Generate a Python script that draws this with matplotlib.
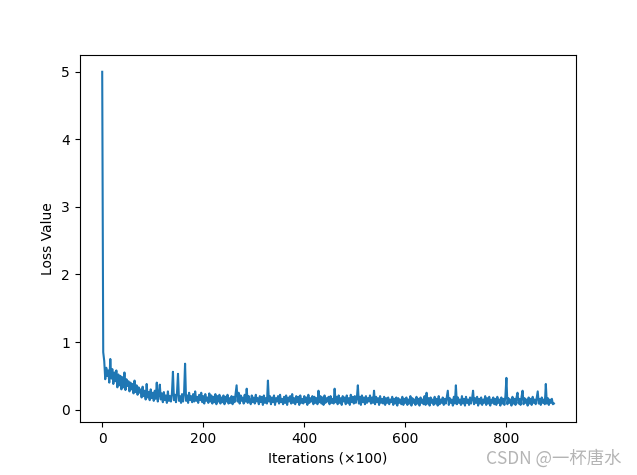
import numpy as np
import matplotlib
matplotlib.use('Agg')
import matplotlib.pyplot as plt

# loss, one value every 2 iterations (x100)
iterations = np.arange(0, 896, 2)
loss_values = [
    5.00, 0.85, 0.72, 0.45, 0.62, 0.50, 0.58, 0.40, 0.75, 0.46,
    0.60, 0.38, 0.55, 0.42, 0.58, 0.33, 0.52, 0.36, 0.50, 0.30,
    0.48, 0.33, 0.55, 0.29, 0.45, 0.35, 0.42, 0.27, 0.40, 0.30,
    0.38, 0.24, 0.43, 0.26, 0.36, 0.22, 0.33, 0.25, 0.30, 0.18,
    0.34, 0.20, 0.28, 0.15, 0.38, 0.18, 0.26, 0.14, 0.30, 0.17,
    0.25, 0.13, 0.28, 0.16, 0.40, 0.12, 0.22, 0.37, 0.15, 0.24,
    0.11, 0.26, 0.14, 0.21, 0.10, 0.27, 0.13, 0.20, 0.12, 0.24,
    0.56, 0.14, 0.22, 0.11, 0.25, 0.53, 0.13, 0.20, 0.10, 0.23,
    0.12, 0.24, 0.68, 0.13, 0.21, 0.10, 0.25, 0.14, 0.20, 0.11,
    0.23, 0.12, 0.27, 0.13, 0.19, 0.10, 0.22, 0.14, 0.25, 0.11,
    0.20, 0.09, 0.23, 0.13, 0.18, 0.10, 0.24, 0.12, 0.21, 0.09,
    0.19, 0.11, 0.23, 0.08, 0.20, 0.12, 0.22, 0.09, 0.18, 0.11,
    0.21, 0.08, 0.19, 0.12, 0.22, 0.09, 0.17, 0.10, 0.20, 0.08,
    0.19, 0.11, 0.23, 0.36, 0.12, 0.25, 0.09, 0.21, 0.13, 0.18,
    0.09, 0.22, 0.12, 0.31, 0.10, 0.20, 0.13, 0.08, 0.21, 0.11,
    0.18, 0.09, 0.22, 0.12, 0.17, 0.08, 0.20, 0.11, 0.19, 0.07,
    0.21, 0.10, 0.17, 0.09, 0.43, 0.12, 0.20, 0.08, 0.18, 0.11,
    0.21, 0.07, 0.17, 0.12, 0.20, 0.09, 0.22, 0.11, 0.16, 0.08,
    0.19, 0.10, 0.21, 0.07, 0.18, 0.12, 0.20, 0.09, 0.23, 0.10,
    0.17, 0.08, 0.20, 0.11, 0.19, 0.07, 0.21, 0.10, 0.16, 0.09,
    0.20, 0.11, 0.18, 0.07, 0.22, 0.10, 0.17, 0.12, 0.20, 0.08,
    0.19, 0.10, 0.17, 0.08, 0.28, 0.11, 0.20, 0.09, 0.18, 0.07,
    0.21, 0.10, 0.17, 0.12, 0.19, 0.08, 0.20, 0.10, 0.16, 0.09,
    0.31, 0.11, 0.19, 0.08, 0.21, 0.10, 0.17, 0.07, 0.20, 0.12,
    0.18, 0.08, 0.21, 0.10, 0.17, 0.07, 0.22, 0.11, 0.19, 0.09,
    0.20, 0.10, 0.17, 0.36, 0.09, 0.19, 0.07, 0.21, 0.11, 0.18,
    0.08, 0.20, 0.10, 0.17, 0.12, 0.21, 0.09, 0.18, 0.10, 0.28,
    0.08, 0.19, 0.11, 0.17, 0.07, 0.20, 0.10, 0.16, 0.09, 0.19,
    0.07, 0.17, 0.10, 0.18, 0.08, 0.15, 0.11, 0.19, 0.07, 0.16,
    0.09, 0.18, 0.06, 0.17, 0.10, 0.15, 0.08, 0.19, 0.07, 0.16,
    0.10, 0.18, 0.07, 0.15, 0.09, 0.20, 0.06, 0.17, 0.10, 0.15,
    0.07, 0.19, 0.09, 0.16, 0.06, 0.18, 0.10, 0.15, 0.08, 0.20,
    0.07, 0.25, 0.09, 0.17, 0.06, 0.18, 0.10, 0.15, 0.07, 0.19,
    0.09, 0.16, 0.06, 0.20, 0.08, 0.15, 0.10, 0.18, 0.07, 0.16,
    0.09, 0.19, 0.28, 0.07, 0.17, 0.10, 0.15, 0.06, 0.19, 0.09,
    0.36, 0.08, 0.18, 0.10, 0.15, 0.07, 0.20, 0.09, 0.16, 0.06,
    0.19, 0.10, 0.15, 0.07, 0.18, 0.09, 0.16, 0.28, 0.08, 0.17,
    0.10, 0.19, 0.06, 0.16, 0.09, 0.18, 0.07, 0.15, 0.10, 0.20,
    0.07, 0.17, 0.09, 0.19, 0.06, 0.15, 0.10, 0.18, 0.08, 0.16,
    0.07, 0.19, 0.10, 0.15, 0.06, 0.18, 0.09, 0.16, 0.07, 0.20,
    0.47, 0.08, 0.17, 0.10, 0.15, 0.06, 0.19, 0.09, 0.16, 0.07,
    0.18, 0.25, 0.09, 0.16, 0.07, 0.19, 0.28, 0.08, 0.17, 0.10,
    0.15, 0.06, 0.18, 0.09, 0.16, 0.07, 0.19, 0.10, 0.15, 0.08,
    0.17, 0.27, 0.09, 0.16, 0.07, 0.18, 0.10, 0.15, 0.08, 0.38,
    0.09, 0.17, 0.07, 0.15, 0.10, 0.16, 0.08, 0.09,
]

fig = plt.figure(figsize=(6.37, 4.75), dpi=100)
ax = fig.add_subplot(111)
fig.subplots_adjust(left=0.125, right=0.905, bottom=0.111, top=0.884)

ax.plot(iterations, loss_values, color='tab:blue', linewidth=1.5)
ax.set_xlabel('Iterations (\u00d7100)')
ax.set_ylabel('Loss Value')

# watermark
fig.text(0.975, 0.015, 'CSDN @一杯唐水', ha='right', va='bottom', fontsize=12.5,
         color='#b4b4b4', family=['Noto Sans CJK SC', 'DejaVu Sans'])

fig.savefig('out.png', dpi=100)
